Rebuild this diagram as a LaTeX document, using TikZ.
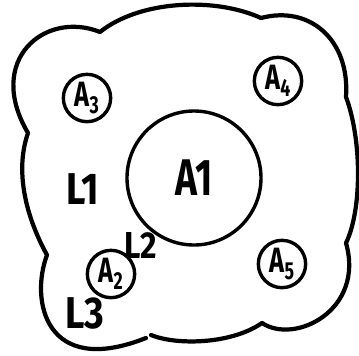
\documentclass[tikz,border=0pt]{standalone}
\usepackage{fontspec}
\setsansfont{Fira Sans}
\newcommand{\narrow}[1]{\scalebox{0.72}[1]{#1}}

\begin{document}
\begin{tikzpicture}[x=0.03cm, y=-0.03cm, line cap=round, line join=round,
    outline/.style={line width=3.6pt},
    hole/.style={draw, circle, line width=2.9pt, inner sep=0pt, minimum size=1.42cm,
        font=\sffamily\bfseries\fontsize{30}{30}\selectfont},
    lab/.style={font=\sffamily\bfseries\fontsize{38}{38}\selectfont}]
    \useasboundingbox (0,0) rectangle (359,355);

    % Define the cusps of the outer boundary
    \coordinate (P1) at (28,133);
    \coordinate (P2) at (100,32);
    \coordinate (P3) at (261,18);
    \coordinate (P4) at (346,97);
    \coordinate (P5) at (346,243);
    \coordinate (P6) at (262,323);
    \coordinate (P7) at (146,338);
    \coordinate (Q7) at (151,335);
    \coordinate (P8) at (47,255);

    % Draw the outer boundary
    \draw[outline] (Q7) .. controls (175,345) and (230,345) .. (P6)
        .. controls (295,345) and (365,310) .. (P5) % bottom right
        .. controls (362,210) and (362,140) .. (P4)
        .. controls (350,40) and (310,5) .. (P3) % top right
        .. controls (215,-3) and (140,0) .. (P2)
        .. controls (45,10) and (-15,60) .. (P1) % top left
        .. controls (15,170) and (25,215) .. (P8)
        .. controls (30,300) and (45,378) .. (P7); % bottom left

    % Draw the big circle and the small ones
    \node[hole, minimum size=4.02cm, font=\sffamily\bfseries\fontsize{44}{44}\selectfont] (a1) at (194,178) {\narrow{A1}};
    \node[hole] (a2) at (111,274) {\narrow{A\textsubscript{2}}};
    \node[hole] (a3) at (87,98) {\narrow{A\textsubscript{3}}};
    \node[hole] (a4) at (278,81) {\narrow{A\textsubscript{4}}};
    \node[hole] (a5) at (282,264) {\narrow{A\textsubscript{5}}};

    % Place the labels
    \node[lab] (l1) at (83,189) {\scalebox{0.85}[1]{L1}};
    \node[lab, font=\sffamily\bfseries\fontsize{32}{32}\selectfont] (l2) at (141,246) {\scalebox{0.85}[1]{L2}};
    \node[lab] (l3) at (85,313) {\scalebox{0.85}[1]{L3}};
\end{tikzpicture}
\end{document}
